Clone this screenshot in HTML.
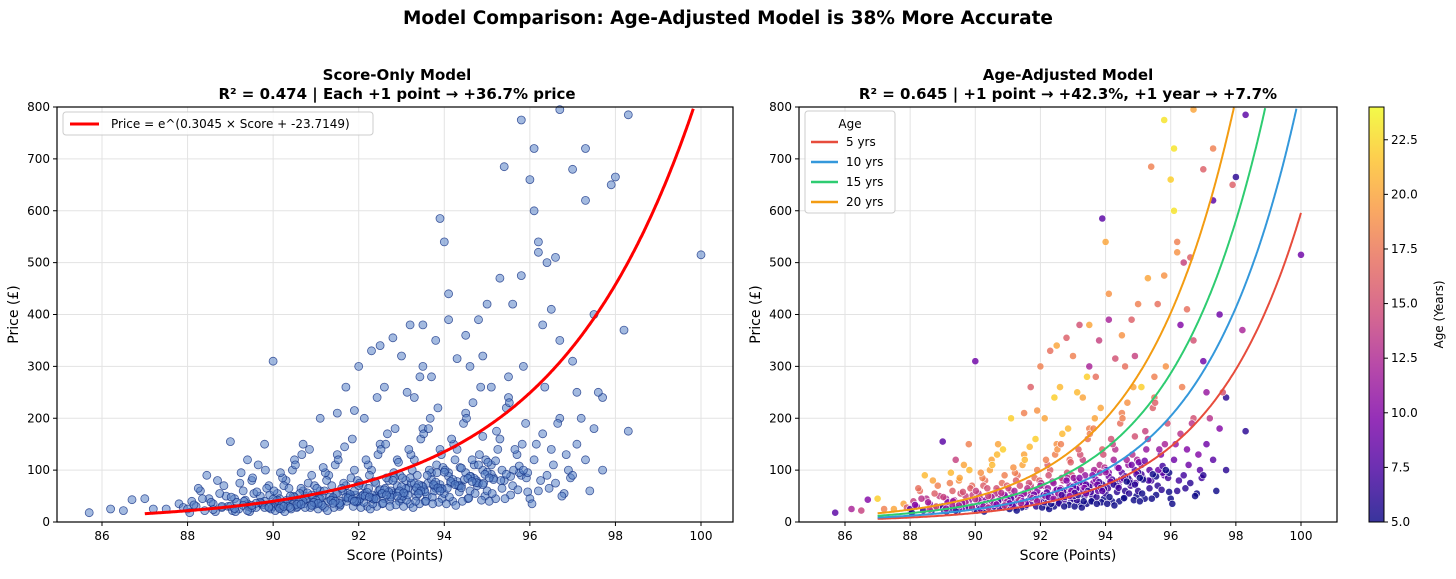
<!DOCTYPE html>
<html><head><meta charset="utf-8">
<style>
body{margin:0;background:#fff;font-family:"Liberation Sans",sans-serif;}
svg text{font-family:"DejaVu Sans","Liberation Sans",sans-serif;}
</style></head>
<body>
<svg id="chart" width="1456" height="574" xmlns="http://www.w3.org/2000/svg">
<defs>
<linearGradient id="plasma" x1="0" y1="1" x2="0" y2="0">
<stop offset="0" stop-color="#0d0887"/><stop offset="0.13" stop-color="#4c02a1"/><stop offset="0.25" stop-color="#7e03a8"/><stop offset="0.38" stop-color="#a92395"/><stop offset="0.5" stop-color="#cc4778"/><stop offset="0.63" stop-color="#e66c5c"/><stop offset="0.75" stop-color="#f89540"/><stop offset="0.88" stop-color="#fdc527"/><stop offset="1" stop-color="#f0f921"/>
</linearGradient>
</defs>
<text x="728" y="24" text-anchor="middle" font-size="18.5" font-weight="bold">Model Comparison: Age-Adjusted Model is 38% More Accurate</text>
<text x="397" y="80" text-anchor="middle" font-size="15" font-weight="bold">Score-Only Model</text>
<text x="397" y="99" text-anchor="middle" font-size="15" font-weight="bold">R² = 0.474 | Each +1 point → +36.7% price</text>
<text x="1068" y="80" text-anchor="middle" font-size="15" font-weight="bold">Age-Adjusted Model</text>
<text x="1068" y="99" text-anchor="middle" font-size="15" font-weight="bold">R² = 0.645 | +1 point → +42.3%, +1 year → +7.7%</text>
<g id="left"></g>
<g id="right"></g>
<g id="cbar"></g>
</svg>
<script>
const scores=[
85.7,86.2,86.5,86.7,87.0,87.2,87.5,87.8,87.9,89.0,
89.4,89.8,90.0,90.7,91.1,91.5,91.7,91.9,92.0,92.3,
92.5,92.6,92.8,93.0,93.2,93.3,93.5,93.5,93.7,93.8,
93.9,94.0,94.1,94.1,94.3,94.5,94.6,94.8,94.9,95.0,
95.1,95.3,95.4,95.5,95.6,95.8,95.8,96.0,96.1,96.1,
96.2,96.2,96.3,96.4,96.5,96.6,96.7,96.7,97.0,97.0,
97.1,97.3,97.3,97.5,97.7,97.9,98.0,98.2,98.3,98.3,100.0,
88.0,88.1,88.2,88.3,88.4,88.5,88.6,88.7,88.8,88.9,
88.05,88.25,88.45,88.55,88.65,88.85,88.95,88.35,88.75,88.15,
89.0,89.1,89.2,89.3,89.4,89.5,89.6,89.7,89.8,89.9,
89.05,89.15,89.25,89.35,89.45,89.55,89.65,89.75,89.85,89.95,
89.02,89.22,89.42,89.62,89.82,89.12,89.32,89.52,89.72,89.92,
90.0,90.1,90.2,90.3,90.4,90.5,90.6,90.7,90.8,90.9,
90.05,90.15,90.25,90.35,90.45,90.55,90.65,90.75,90.85,90.95,
90.02,90.12,90.22,90.32,90.42,90.52,90.62,90.72,90.82,90.92,
90.07,90.17,90.27,90.37,90.47,90.57,90.67,90.77,90.87,90.97,
91.0,91.1,91.2,91.3,91.4,91.5,91.6,91.7,91.8,91.9,
91.05,91.15,91.25,91.35,91.45,91.55,91.65,91.75,91.85,91.95,
91.02,91.12,91.22,91.32,91.42,91.52,91.62,91.72,91.82,91.92,
91.07,91.17,91.27,91.37,91.47,91.57,91.67,91.77,91.87,91.97,
92.0,92.1,92.2,92.3,92.4,92.5,92.6,92.7,92.8,92.9,
92.05,92.15,92.25,92.35,92.45,92.55,92.65,92.75,92.85,92.95,
92.02,92.12,92.22,92.32,92.42,92.52,92.62,92.72,92.82,92.92,
92.07,92.17,92.27,92.37,92.47,92.57,92.67,92.77,92.87,92.97,
92.03,92.13,92.23,92.33,92.43,92.53,92.63,92.73,92.83,92.93,
93.0,93.1,93.2,93.3,93.4,93.5,93.6,93.7,93.8,93.9,
93.05,93.15,93.25,93.35,93.45,93.55,93.65,93.75,93.85,93.95,
93.02,93.12,93.22,93.32,93.42,93.52,93.62,93.72,93.82,93.92,
93.07,93.17,93.27,93.37,93.47,93.57,93.67,93.77,93.87,93.97,
93.03,93.13,93.23,93.33,93.43,93.53,93.63,93.73,93.83,93.93,
94.0,94.1,94.2,94.3,94.4,94.5,94.6,94.7,94.8,94.9,
94.05,94.15,94.25,94.35,94.45,94.55,94.65,94.75,94.85,94.95,
94.02,94.12,94.22,94.32,94.42,94.52,94.62,94.72,94.82,94.92,
94.07,94.17,94.27,94.37,94.47,94.57,94.67,94.77,94.87,94.97,
95.0,95.1,95.2,95.3,95.4,95.5,95.6,95.7,95.8,95.9,
95.05,95.15,95.25,95.35,95.45,95.55,95.65,95.75,95.85,95.95,
95.02,95.12,95.22,95.32,95.42,95.52,95.62,95.72,95.82,95.92,
96.0,96.1,96.2,96.3,96.4,96.5,96.6,96.7,96.8,96.9,
96.05,96.15,96.25,96.35,96.45,96.55,96.65,96.75,96.85,96.95,
97.0,97.1,97.2,97.3,97.4,97.5,97.6,97.7,
89.3,89.5,89.7,89.9,90.1,90.3,90.5,90.7,90.9,91.1,
91.3,91.5,91.7,91.9,92.1,92.3,92.5,92.7,92.9,93.1,
93.3,93.5,93.7,93.9,94.1,94.3,94.5,94.7,94.9,95.1,
89.4,89.6,89.8,90.0,90.2,90.4,90.6,90.8,91.0,91.2,
91.4,91.6,91.8,92.0,92.2,92.4,92.6,92.8,93.0,93.2,
93.4,93.6,93.8,94.0,94.2,94.4,94.6,94.8,95.0,95.2,
90.15,90.35,90.55,90.75,90.95,91.15,91.35,91.55,91.75,91.95,
92.15,92.35,92.55,92.75,92.95,93.15,93.35,93.55,93.75,93.95,
94.15,94.35,94.55,94.75,94.95,95.15,95.35,95.55,95.75,95.95,
88.6,88.8,89.1,89.5,89.9,90.25,90.65,91.05,91.45,91.85,
92.25,92.65,93.05,93.45,93.85,94.25,94.65,95.05,95.45,95.85,
90.4,90.9,91.4,91.9,92.4,92.9,93.4,93.9,94.4,94.9
];
const prices=[
18,25,22,43,45,25,25,35,28,155,
120,150,310,150,200,210,260,215,300,330,
340,260,355,320,380,240,300,380,280,350,
585,540,440,390,315,360,300,390,320,420,
260,470,685,280,420,775,475,660,720,600,
520,540,380,500,410,510,795,350,680,310,
250,720,620,400,240,650,665,370,175,785,515,
25,40,30,60,22,45,35,80,28,50,
18,65,90,38,20,70,30,45,55,33,
30,45,25,60,35,80,28,50,40,70,
22,38,95,42,20,55,110,33,65,25,
48,75,30,58,100,20,40,85,36,52,
30,55,25,80,40,120,35,60,45,90,
22,45,70,38,100,28,65,50,140,33,
60,30,85,42,25,110,55,35,75,48,
40,95,20,65,50,30,130,45,28,70,
35,60,28,90,45,130,40,70,50,100,
25,50,80,42,110,30,75,55,160,38,
65,35,95,48,28,120,60,40,85,52,
45,105,22,70,55,33,145,48,30,80,
40,70,30,100,50,150,45,80,55,120,
28,55,90,45,130,35,85,60,180,40,
75,38,110,52,30,140,65,42,95,58,
50,120,25,78,60,36,170,52,33,90,
45,200,65,35,240,55,150,30,85,115,
45,80,35,120,60,180,50,95,65,140,
30,65,100,50,160,40,100,70,220,45,
85,42,130,60,35,170,75,48,110,65,
55,140,28,90,70,40,200,60,38,105,
50,250,75,40,280,62,180,35,95,130,
55,95,40,140,70,210,60,110,75,165,
35,75,120,58,190,45,120,80,260,50,
100,48,150,70,40,200,88,55,130,75,
65,160,32,105,82,46,230,70,42,120,
60,110,45,160,80,240,70,130,90,190,
40,85,140,65,220,52,140,95,300,58,
115,55,175,80,45,230,100,62,150,85,
45,120,60,170,90,140,75,200,55,100,
35,150,80,260,65,110,190,50,130,85,
90,150,200,120,60,180,250,100,
32,27,38,30,42,35,48,40,52,45,
40,55,48,60,52,46,62,58,70,64,
75,68,82,72,88,78,95,84,100,92,
22,36,28,44,33,50,38,56,42,60,
47,65,53,70,57,75,62,80,68,85,
72,90,77,96,82,104,88,110,96,118,
26,30,34,28,38,32,42,36,46,40,
50,44,55,48,60,52,66,58,72,64,
78,70,84,76,92,82,100,88,108,95,
24,30,26,32,28,30,34,36,40,44,
48,52,56,60,66,72,78,85,92,100,
28,32,36,40,45,50,55,60,66,72
];
const ages=[
8,12,14,10,22,18,20,20,16,8,
14,18,9,20,22,18,16,19,18,17,
20,21,16,18,15,20,12,20,17,14,
8,20,19,12,15,19,17,16,14,18,
22,20,18,18,17,23,19,22,23,23,
19,18,10,14,17,16,20,15,16,9,
11,18,8,9,6,16,6,12,6,8,9,
8,14,10,17,6,13,9,20,7,14,
5,17,21,12,6,18,8,13,16,10,
7,12,6,16,9,19,8,14,11,17,
6,10,21,13,5,15,20,9,16,6,
14,18,8,15,21,5,11,20,10,14,
8,13,6,17,10,20,7,14,11,18,
5,12,16,9,20,6,15,13,22,8,
14,7,18,10,5,21,13,8,17,12,
10,19,5,15,13,7,21,11,6,16,
8,13,6,17,10,20,7,14,11,18,
5,12,16,9,20,6,15,13,22,8,
14,7,18,10,5,21,13,8,17,12,
10,19,5,15,13,7,21,11,6,16,
7,12,5,16,9,19,7,13,9,17,
5,11,15,8,18,6,14,11,21,6,
13,6,16,9,5,19,12,7,15,10,
9,18,5,13,11,6,21,9,5,15,
7,20,11,5,22,9,18,5,12,16,
6,10,5,14,8,18,6,11,8,16,
5,9,13,6,17,5,12,9,20,5,
11,6,15,8,5,18,10,6,13,8,
7,16,5,11,9,5,20,8,5,13,
6,21,10,5,22,8,18,5,12,15,
6,10,5,13,8,18,6,11,8,15,
5,8,12,6,17,5,12,9,20,5,
10,5,14,7,5,18,9,6,13,8,
7,15,5,10,9,5,19,7,5,12,
6,9,5,13,7,17,6,10,8,15,
5,8,11,6,16,5,11,8,19,5,
9,5,14,7,5,16,9,6,12,7,
5,9,6,13,7,10,6,15,5,8,
5,11,7,18,6,9,13,5,10,7,
6,9,13,8,5,10,15,6,
12,9,13,8,11,9,12,7,10,8,
9,11,7,10,8,6,9,7,10,8,
9,7,10,6,9,7,8,6,8,7,
6,11,8,13,9,14,10,13,9,12,
10,13,9,12,8,11,9,10,8,10,
8,10,7,11,7,10,7,9,6,9,
9,10,11,7,12,8,13,9,12,8,
11,8,12,7,10,6,10,7,9,6,
9,6,8,6,8,5,8,5,7,5,
13,15,11,12,13,11,10,9,10,8,
8,7,7,6,6,6,5,5,5,5,
13,13,12,12,11,10,9,8,7,6
];
const yTicks=[0,100,200,300,400,500,600,700,800];
const xTicks=[86,88,90,92,94,96,98,100];
const cbarTicks=[5.0,7.5,10.0,12.5,15.0,17.5,20.0,22.5];
const legendAges=[5,10,15,20];
const legendColors=["#e74c3c","#3498db","#2ecc71","#f39c12"];
const fitB=0.3045, fitC=-23.7149;
const adjA=0.3528, adjB=0.068, adjC=-29.23;

const NS="http://www.w3.org/2000/svg";
function mk(parent,tag,attrs,text){const e=document.createElementNS(NS,tag);for(const k in attrs)e.setAttribute(k,attrs[k]);if(text!==undefined)e.textContent=text;parent.appendChild(e);return e;}
const yTop=107,yBot=522,yMax=800;
function yS(p){return yBot-p/yMax*(yBot-yTop);}
const L={x0:57,x1:733,x86:102,per:(701-102)/14};
const R={x0:799,x1:1337,x86:845,per:(1301-845)/14};
function xS(ax,s){return ax.x86+(s-86)*ax.per;}
function plasma(t){
  const st=[[13,8,135],[76,2,161],[126,3,168],[169,35,149],[204,71,120],[230,108,92],[248,149,64],[253,197,39],[240,249,33]];
  t=Math.max(0,Math.min(1,t));const f=t*8,i=Math.min(7,Math.floor(f)),r=f-i;
  const c=st[i].map((v,k)=>Math.round(v+(st[i+1][k]-v)*r));return `rgb(${c[0]},${c[1]},${c[2]})`;
}
function axes(g,ax,name){
  for(const t of xTicks){const x=xS(ax,t);
    const gl=mk(g,'line',{x1:x,x2:x,y1:yTop,y2:yBot,stroke:'#e3e3e3','stroke-width':1});
    
    mk(g,'line',{x1:x,x2:x,y1:yBot,y2:yBot+4,stroke:'#000'});
    const tl=mk(g,'text',{x:x,y:yBot+18,'text-anchor':'middle','font-size':12},String(t));
    }
  for(const t of yTicks){const y=yS(t);
    const gl=mk(g,'line',{x1:ax.x0,x2:ax.x1,y1:y,y2:y,stroke:'#e3e3e3','stroke-width':1});
    
    mk(g,'line',{x1:ax.x0-4,x2:ax.x0,y1:y,y2:y,stroke:'#000'});
    const tl=mk(g,'text',{x:ax.x0-7,y:y+4,'text-anchor':'end','font-size':12},String(t));
    }
  const xl=mk(g,'text',{x:(ax.x0+ax.x1)/2,y:560,'text-anchor':'middle','font-size':14},'Score (Points)');
  
  const yl=mk(g,'text',{x:0,y:0,'text-anchor':'middle','font-size':14,transform:`translate(${ax.x0-39},${(yTop+yBot)/2}) rotate(-90)`},'Price (£)');
  
}
function frame(g,ax){const f=mk(g,'rect',{x:ax.x0,y:yTop,width:ax.x1-ax.x0,height:yBot-yTop,fill:'none',stroke:'#000','stroke-width':1.2});
  }
function clipCurve(ax,fn,s0,s1){let d='';for(let s=s0;s<=s1+1e-9;s+=0.02){const p=fn(s);if(p>yMax){break;}d+=(d?'L':'M')+xS(ax,s).toFixed(1)+','+yS(p).toFixed(1);}return d;}

// LEFT
const gl=document.getElementById('left');
axes(gl,L,'left');
const n=Math.min(scores.length,prices.length,ages.length);
for(let i=0;i<n;i++){
  const c=mk(gl,'circle',{cx:xS(L,scores[i]).toFixed(1),cy:yS(prices[i]).toFixed(1),r:4,fill:'rgba(88,130,198,0.55)',stroke:'rgba(16,45,130,0.75)','stroke-width':0.8});
  
}
const fit=mk(gl,'path',{d:clipCurve(L,s=>Math.exp(fitB*s+fitC),87,100),fill:'none',stroke:'#f00','stroke-width':3});

frame(gl,L);
const lg=mk(gl,'g',{});
mk(lg,'rect',{x:63,y:112,width:310,height:23,rx:3,fill:'rgba(255,255,255,0.85)',stroke:'#ccc'});
mk(lg,'line',{x1:70,x2:99,y1:124,y2:124,stroke:'#f00','stroke-width':3});
mk(lg,'text',{x:111,y:128,'font-size':12},'Price = e^(0.3045 × Score + -23.7149)');

// RIGHT
const gr=document.getElementById('right');
axes(gr,R,'right');
for(let i=0;i<n;i++){
  const c=mk(gr,'circle',{cx:xS(R,scores[i]).toFixed(1),cy:yS(prices[i]).toFixed(1),r:3.6,fill:plasma((ages[i]-5)/19),'fill-opacity':0.82,stroke:'#fff','stroke-width':0.6});
  
}
legendAges.forEach((a,k)=>{
  const p=mk(gr,'path',{d:clipCurve(R,s=>Math.exp(adjA*s+adjB*a+adjC),87,100),fill:'none',stroke:legendColors[k],'stroke-width':2});
  
});
frame(gr,R);
const rg=mk(gr,'g',{});
mk(rg,'rect',{x:805,y:111,width:90,height:102,rx:3,fill:'rgba(255,255,255,0.85)',stroke:'#ccc'});
mk(rg,'text',{x:850,y:128,'text-anchor':'middle','font-size':12},'Age');
legendAges.forEach((a,k)=>{const y=146+k*20;
  const e=mk(rg,'line',{x1:811,x2:838,y1:y-4,y2:y-4,stroke:legendColors[k],'stroke-width':2.5});
  
  mk(rg,'text',{x:846,y:y,'font-size':12},a+' yrs');});

// COLORBAR
const gc=document.getElementById('cbar');
const cb=mk(gc,'rect',{x:1369,y:yTop,width:15,height:yBot-yTop,fill:'url(#plasma)','fill-opacity':0.82,stroke:'#000','stroke-width':1});

for(const t of cbarTicks){const y=yBot-(t-5)/19*(yBot-yTop);
  mk(gc,'line',{x1:1384,x2:1388,y1:y,y2:y,stroke:'#000'});
  const tl=mk(gc,'text',{x:1391,y:y+4,'font-size':12},t.toFixed(1));
  }
const ct=mk(gc,'text',{x:0,y:0,'text-anchor':'middle','font-size':12,transform:`translate(1443,${(yTop+yBot)/2}) rotate(-90)`},'Age (Years)');

</script>
</body></html>
